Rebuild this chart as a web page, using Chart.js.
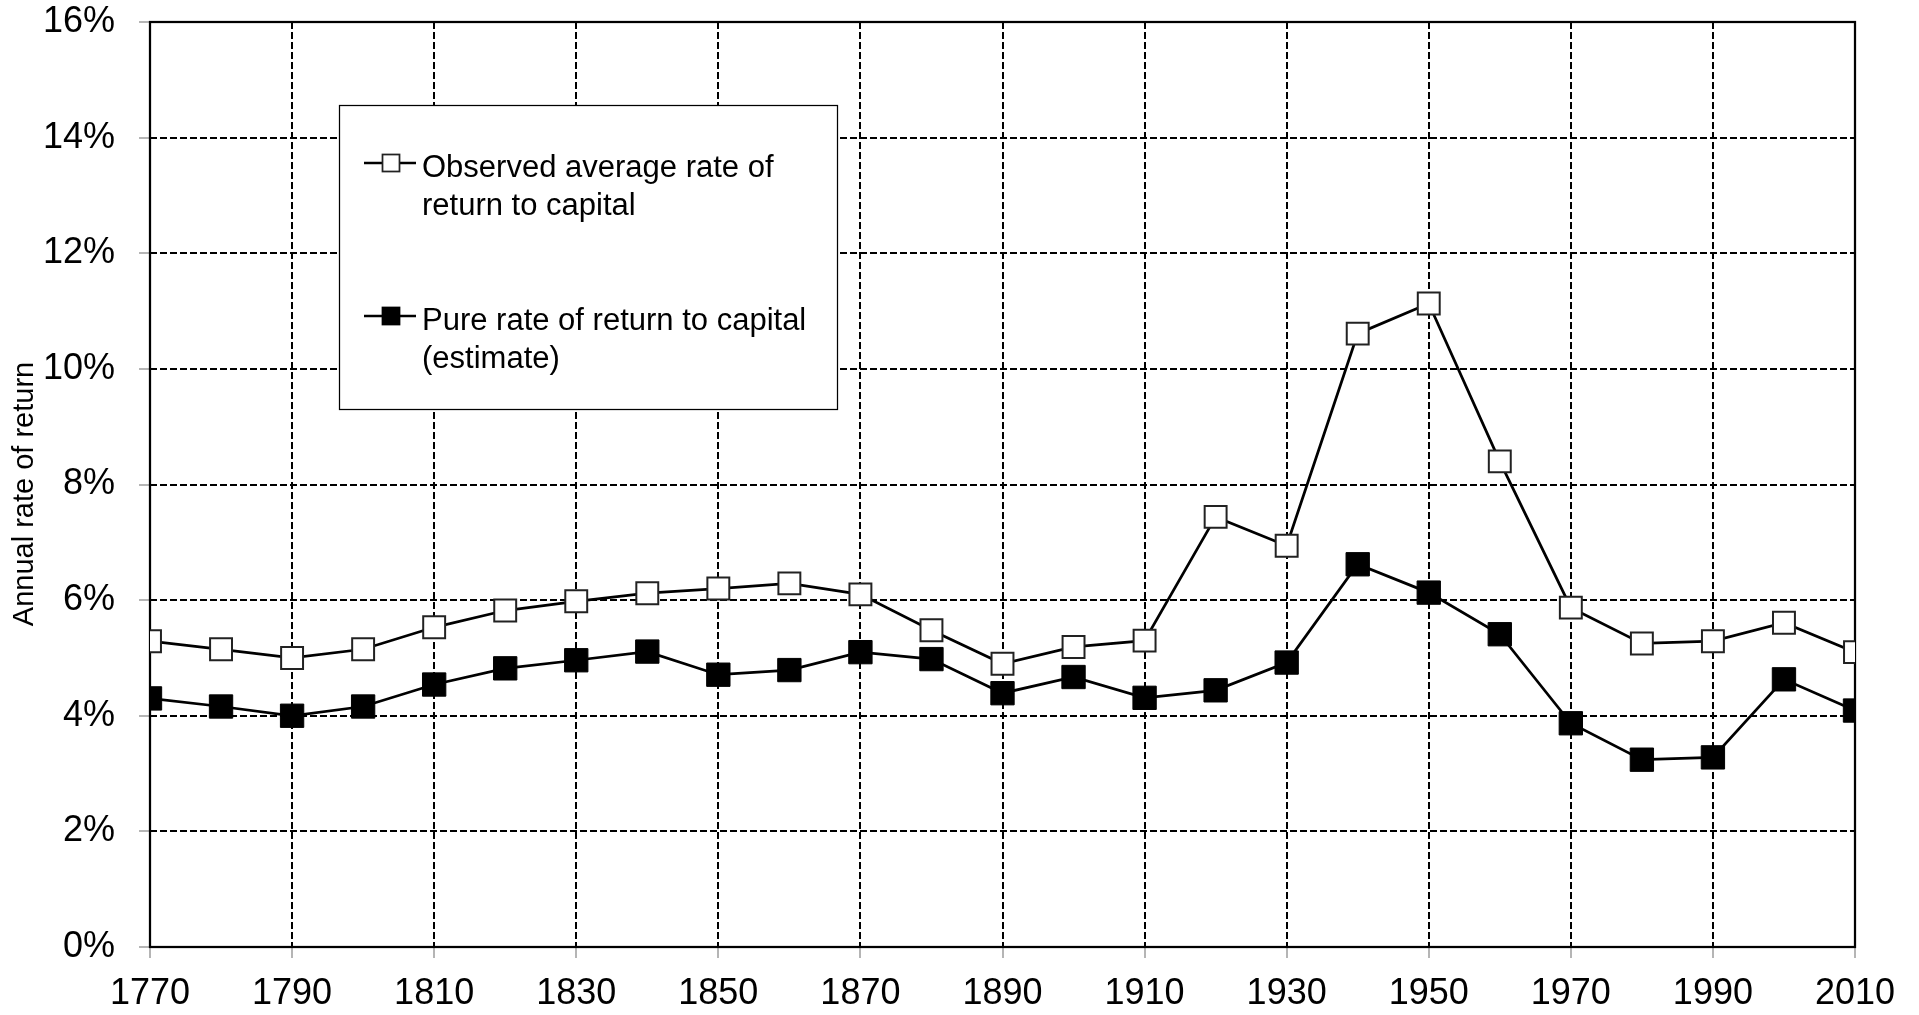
<!DOCTYPE html>
<html>
<head>
<meta charset="utf-8">
<title>Rate of return to capital</title>
<script src="https://cdn.jsdelivr.net/npm/chart.js@4.4.0/dist/chart.umd.min.js"></script>
<style>
  html, body { margin: 0; padding: 0; background: #fff; }
  #wrap { width: 1919px; height: 1015px; }
</style>
</head>
<body>
<div id="wrap"><canvas id="myChart" width="1919" height="1015"></canvas></div>
<script>
// values (annual rate of return, %)
const years = [1770, 1780, 1790, 1800, 1810, 1820, 1830, 1840, 1850, 1860, 1870, 1880, 1890,
  1900, 1910, 1920, 1930, 1940, 1950, 1960, 1970, 1980, 1990, 2000, 2010];
const observed = [5.29, 5.15, 5.00, 5.15, 5.53, 5.82, 5.98, 6.12, 6.20, 6.29, 6.10, 5.48, 4.90,
  5.19, 5.30, 7.44, 6.94, 10.61, 11.13, 8.40, 5.87, 5.25, 5.29, 5.61, 5.10];
const pure = [4.30, 4.16, 4.00, 4.16, 4.54, 4.82, 4.96, 5.11, 4.71, 4.79, 5.10, 4.98, 4.39,
  4.67, 4.31, 4.44, 4.92, 6.62, 6.13, 5.41, 3.87, 3.24, 3.28, 4.63, 4.09];
const seriesNames = [
  ["Observed average rate of", "return to capital"],
  ["Pure rate of return to capital", "(estimate)"],
];
const yTitle = "Annual rate of return";
const yMin = 0, yMax = 16, yStep = 2;
const xMin = 1770, xMax = 2010, xStep = 20;

const FONT = "'Liberation Sans', Arial, sans-serif";

const toPoints = (vals) => years.map((yr, i) => ({ x: yr, y: vals[i] }));

// solid frame round the plot area
const framePlugin = {
  id: "frame",
  beforeDatasetsDraw(chart) {
    const { ctx, chartArea: a } = chart;
    ctx.save();
    ctx.strokeStyle = "#000";
    ctx.lineWidth = 2.25;
    ctx.setLineDash([]);
    ctx.strokeRect(a.left, a.top, a.right - a.left, a.bottom - a.top);
    ctx.restore();
  },
};

// y title sits a bit below the middle of the axis in the original
const yTitlePlugin = {
  id: "yTitle",
  afterDraw(chart) {
    const ctx = chart.ctx;
    ctx.save();
    ctx.translate(25, 494);
    ctx.rotate(-Math.PI / 2);
    ctx.fillStyle = "#000";
    ctx.font = "29px " + FONT;
    ctx.textAlign = "center";
    ctx.textBaseline = "middle";
    ctx.fillText(yTitle, 0, 0);
    ctx.restore();
  },
};

// boxed legend with two-line labels
const boxLegend = {
  id: "boxLegend",
  afterDraw(chart) {
    const ctx = chart.ctx;
    const rows = [163, 316];
    ctx.save();
    ctx.setLineDash([]);
    ctx.fillStyle = "#fff";
    ctx.fillRect(339, 105, 498, 304);
    ctx.strokeStyle = "#000";
    ctx.lineWidth = 1.25;
    ctx.strokeRect(339.5, 105.5, 498, 304);

    chart.data.datasets.forEach((ds, i) => {
      const y = rows[i];
      ctx.strokeStyle = "#000";
      ctx.lineWidth = 2.5;
      ctx.beginPath();
      ctx.moveTo(364, y);
      ctx.lineTo(416, y);
      ctx.stroke();
      const s = 8.5;
      ctx.fillStyle = ds.pointBackgroundColor;
      ctx.fillRect(391 - s, y - s, 2 * s, 2 * s);
      ctx.lineWidth = 1.75;
      ctx.strokeStyle = ds.pointBorderColor;
      ctx.strokeRect(391 - s, y - s, 2 * s, 2 * s);

      ctx.fillStyle = "#000";
      ctx.font = "31px " + FONT;
      ctx.textBaseline = "alphabetic";
      ctx.textAlign = "left";
      seriesNames[i].forEach((line, k) => {
        ctx.fillText(line, 422, y + 14 + k * 38);
      });
    });
    ctx.restore();
  },
};

const gridOpts = {
  color: "#000",
  lineWidth: 2,
  tickLength: 11,
  tickColor: "#888",
  tickWidth: 1.25,
  tickBorderDash: [],
};

const chart = new Chart(document.getElementById("myChart"), {
  type: "line",
  data: {
    datasets: [
      {
        label: seriesNames[0].join(" "),
        data: toPoints(observed),
        borderColor: "#000",
        borderWidth: 2.75,
        pointStyle: "rect",
        pointRadius: 15.5,
        pointHoverRadius: 15.5,
        pointBackgroundColor: "#fff",
        pointBorderColor: "#222",
        pointBorderWidth: 2,
        tension: 0,
      },
      {
        label: seriesNames[1].join(" "),
        data: toPoints(pure),
        borderColor: "#000",
        borderWidth: 2.75,
        pointStyle: "rect",
        pointRadius: 16.5,
        pointHoverRadius: 16.5,
        pointBackgroundColor: "#000",
        pointBorderColor: "#000",
        pointBorderWidth: 1,
        tension: 0,
      },
    ],
  },
  options: {
    responsive: false,
    animation: false,
    layout: { padding: { top: 0, right: 64, left: 0, bottom: 0 } },
    plugins: {
      legend: { display: false },
      tooltip: { enabled: false },
    },
    scales: {
      x: {
        type: "linear",
        min: xMin,
        max: xMax,
        afterFit(scale) { scale.height = 68; },
        ticks: {
          stepSize: xStep,
          color: "#000",
          font: { family: FONT, size: 36 },
          padding: 14,
          maxRotation: 0,
          callback: (v) => String(v),
        },
        grid: gridOpts,
        border: { display: false, dash: [7, 3] },
      },
      y: {
        min: yMin,
        max: yMax,
        afterFit(scale) {
          scale.width = 150;
          // plot top sits 22px below the canvas edge
          scale.paddingTop = 22;
          scale.paddingBottom = 0;
        },
        ticks: {
          stepSize: yStep,
          color: "#000",
          font: { family: FONT, size: 36 },
          padding: 24,
          callback: (v) => v + "%",
        },
        grid: gridOpts,
        border: { display: false, dash: [7, 3] },
      },
    },
  },
  plugins: [framePlugin, boxLegend, yTitlePlugin],
});
</script>
</body>
</html>
